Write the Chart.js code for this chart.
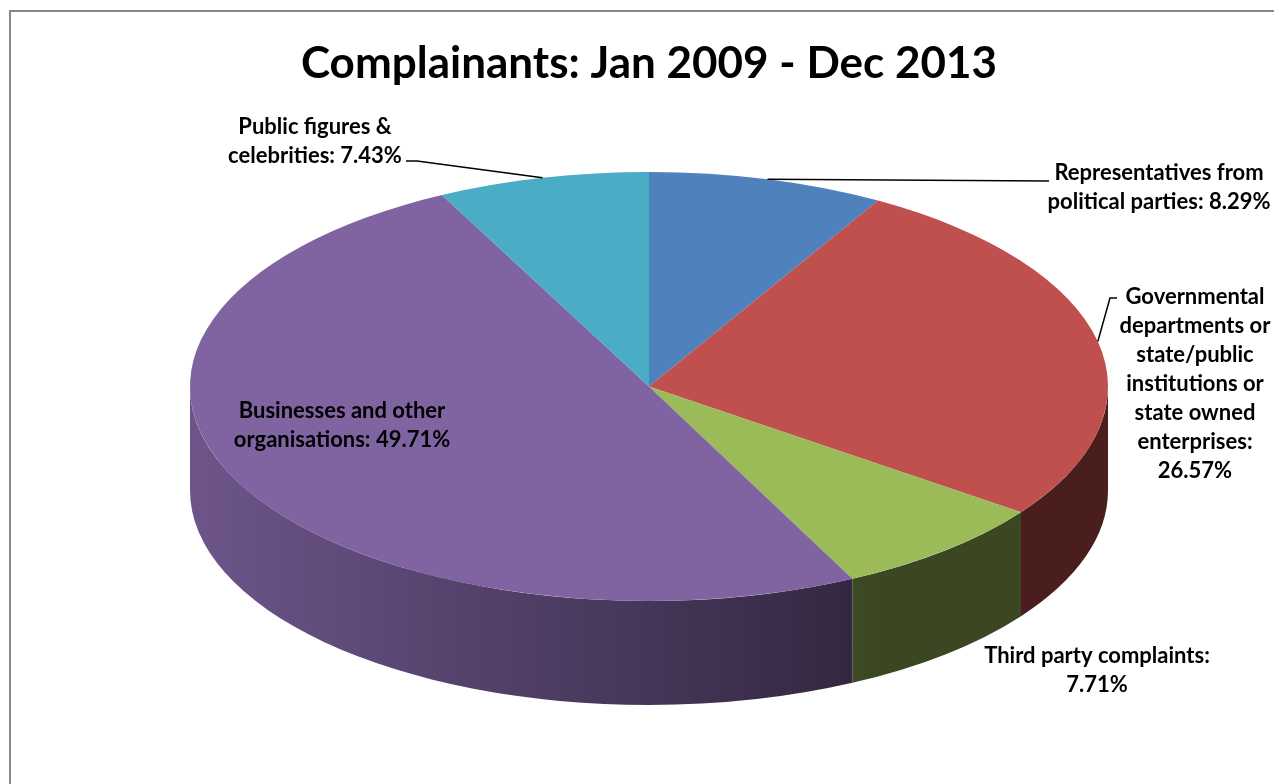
<!DOCTYPE html>
<html>
<head>
<meta charset="utf-8">
<script src="https://cdn.jsdelivr.net/npm/chart.js"></script>
<style>
  html, body { margin: 0; padding: 0; background: #fff; overflow: hidden; }
  canvas { display: block; }
</style>
</head>
<body>
<canvas id="chart" width="1274" height="784"></canvas>
<script>
// data
const categories = [
    'Representatives from political parties',
    'Governmental departments or state/public institutions or state owned enterprises',
    'Third party complaints',
    'Businesses and other organisations',
    'Public figures & celebrities'
];
const shares = [8.29, 26.57, 7.71, 49.71, 7.43];
const sliceColors = ['#4F81BD', '#C0504D', '#9BBB59', '#8064A2', '#4BACC6'];

// where each data label sits (centre of first line), wrap width and leader bend points
const labelLayout = [
    { x: 1159, y: 173, wrap: 240, leader: [[1049, 181]] },
    { x: 1195, y: 297, wrap: 165, leader: [[1117, 298], [1110, 298]] },
    { x: 1097, y: 656, wrap: 250 },
    { x: 342, y: 411, wrap: 230 },
    { x: 315, y: 127, wrap: 190, leader: [[406, 161], [417, 161]] }
];

const LABEL_FONT = 'bold 22px Lato';
const LINE_GAP = 29;

function shade(hex, f) {
    const n = parseInt(hex.slice(1), 16);
    const r = Math.round(((n >> 16) & 255) * f);
    const g = Math.round(((n >> 8) & 255) * f);
    const b = Math.round((n & 255) * f);
    return `rgb(${r},${g},${b})`;
}

function wrapText(ctx, text, maxWidth) {
    const words = text.split(' ');
    const lines = [];
    let line = '';
    words.forEach(w => {
        const test = line ? line + ' ' + w : w;
        if (line && ctx.measureText(test).width > maxWidth) {
            lines.push(line);
            line = w;
        } else {
            line = test;
        }
    });
    if (line) lines.push(line);
    return lines;
}

// squashes the pie into a tilted disc and gives it a side wall
const pie3d = {
    id: 'pie3d',
    geometry(chart) {
        const arc = chart.getDatasetMeta(0).data[0];
        const r = arc.outerRadius;
        return { cx: arc.x, cy: arc.y, ry: r, rx: chart.chartArea.width / 2, sx: (chart.chartArea.width / 2) / r };
    },
    beforeDraw(chart) {
        const ctx = chart.ctx;
        ctx.save();
        ctx.strokeStyle = '#878787';
        ctx.lineWidth = 2;
        ctx.beginPath();
        ctx.moveTo(10, 800);
        ctx.lineTo(10, 11);
        ctx.lineTo(1300, 11);
        ctx.stroke();
        ctx.restore();
    },
    beforeDatasetsDraw(chart, args, opts) {
        const ctx = chart.ctx;
        const g = this.geometry(chart);
        const depth = opts.depth;
        chart.getDatasetMeta(0).data.forEach((arc, i) => {
            const a0 = Math.max(arc.startAngle, 0);
            const a1 = Math.min(arc.endAngle, Math.PI);
            if (a1 <= a0) return;
            const base = sliceColors[i];
            const grad = ctx.createLinearGradient(g.cx - g.rx, 0, g.cx + g.rx, 0);
            grad.addColorStop(0, shade(base, 0.85));
            grad.addColorStop(0.75, shade(base, 0.38));
            grad.addColorStop(1, shade(base, 0.38));
            ctx.beginPath();
            ctx.ellipse(g.cx, g.cy, g.rx, g.ry, 0, a0, a1, false);
            ctx.ellipse(g.cx, g.cy + depth, g.rx, g.ry, 0, a1, a0, true);
            ctx.closePath();
            ctx.fillStyle = grad;
            ctx.fill();
        });
        ctx.save();
        ctx.translate(g.cx, g.cy);
        ctx.scale(g.sx, 1);
        ctx.translate(-g.cx, -g.cy);
    },
    afterDatasetsDraw(chart) {
        const ctx = chart.ctx;
        ctx.restore();
        const g = this.geometry(chart);
        const data = chart.data.datasets[0].data;
        ctx.save();
        ctx.font = LABEL_FONT;
        ctx.fillStyle = '#000';
        ctx.strokeStyle = '#000';
        ctx.lineWidth = 1.5;
        ctx.textAlign = 'center';
        ctx.textBaseline = 'middle';
        chart.getDatasetMeta(0).data.forEach((arc, i) => {
            const lay = labelLayout[i];
            const text = `${chart.data.labels[i]}: ${data[i].toFixed(2)}%`;
            const lines = wrapText(ctx, text, lay.wrap);
            lines.forEach((l, k) => ctx.fillText(l, lay.x, lay.y + k * LINE_GAP));
            if (lay.leader) {
                const mid = (arc.startAngle + arc.endAngle) / 2;
                const ax = g.cx + g.rx * Math.cos(mid);
                const ay = g.cy + g.ry * Math.sin(mid);
                ctx.beginPath();
                ctx.moveTo(lay.leader[0][0], lay.leader[0][1]);
                lay.leader.slice(1).forEach(p => ctx.lineTo(p[0], p[1]));
                ctx.lineTo(ax, ay);
                ctx.stroke();
            }
        });
        ctx.restore();
    }
};

Chart.defaults.font.family = 'Lato';
Chart.defaults.color = '#000';

new Chart(document.getElementById('chart'), {
    type: 'pie',
    data: {
        labels: categories,
        datasets: [{
            data: shares,
            backgroundColor: sliceColors,
            borderWidth: 0,
            clip: false
        }]
    },
    options: {
        responsive: false,
        animation: false,
        events: [],
        layout: { padding: { top: 0, left: 190, right: 166, bottom: 183 } },
        plugins: {
            legend: { display: false },
            tooltip: { enabled: false },
            title: {
                display: true,
                text: 'Complainants: Jan 2009 - Dec 2013',
                color: '#000',
                font: { size: 44, weight: 'bold', family: 'Lato', lineHeight: 1.2 },
                padding: { top: 37, bottom: 82.2 }
            },
            pie3d: { depth: 104 }
        }
    },
    plugins: [pie3d]
});
</script>
</body>
</html>
